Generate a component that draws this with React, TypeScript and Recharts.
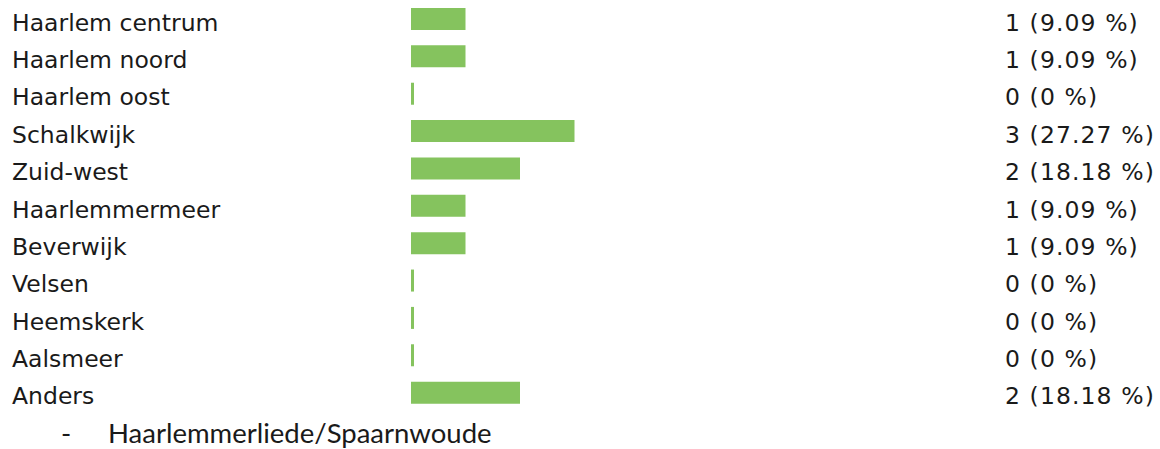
import React from 'react';
import { BarChart, Bar, XAxis, YAxis } from 'recharts';

const regions = [
  'Haarlem centrum',
  'Haarlem noord',
  'Haarlem oost',
  'Schalkwijk',
  'Zuid-west',
  'Haarlemmermeer',
  'Beverwijk',
  'Velsen',
  'Heemskerk',
  'Aalsmeer',
  'Anders',
];
const counts = [1, 1, 0, 3, 2, 1, 1, 0, 0, 0, 2];
const percents = ['9.09', '9.09', '0', '27.27', '18.18', '9.09', '9.09', '0', '0', '0', '18.18'];
const otherAnswers = ['Haarlemmerliede/Spaarnwoude'];

const data = regions.map((name, i) => ({
  name,
  count: counts[i],
  label: `${counts[i]} (${percents[i]} %)`,
}));

const FONT = '"DejaVu Sans", Verdana, sans-serif';

const LeftTick = (props: any) => {
  const { y, payload } = props;
  return (
    <text x={12} y={y} dy={4} dominantBaseline="central" textAnchor="start" fontFamily={FONT} fontSize={23.5} fill="#1a1a1a">
      {payload.value}
    </text>
  );
};

const RightTick = (props: any) => {
  const { y, payload } = props;
  return (
    <text x={1005} y={y} dy={4} dominantBaseline="central" textAnchor="start" fontFamily={FONT} fontSize={23.5} letterSpacing={1.1} fill="#1a1a1a">
      {payload.value}
    </text>
  );
};

export default function App() {
  return (
    <div style={{ position: 'absolute', left: 0, top: 0, width: 1160, height: 449, background: '#fff' }}>
      <BarChart
        width={1160}
        height={449}
        data={data}
        layout="vertical"
        margin={{ top: 0, right: 0, bottom: 38, left: 0 }}
        barCategoryGap={0}
      >
        <XAxis type="number" domain={[0, 10]} hide />
        <YAxis yAxisId="left" type="category" dataKey="name" width={411} axisLine={false} tickLine={false} tick={<LeftTick />} interval={0} />
        <YAxis yAxisId="right" orientation="right" type="category" dataKey="label" width={204} axisLine={false} tickLine={false} tick={<RightTick />} interval={0} />
        <Bar yAxisId="left" dataKey="count" fill="#85c35e" barSize={22} minPointSize={3} isAnimationActive={false} />
      </BarChart>
      {otherAnswers.map((t) => (
        <div
          key={t}
          style={{
            position: 'absolute',
            left: 0,
            top: 416,
            height: 34,
            fontFamily: 'Lato, sans-serif',
            fontSize: 27.5,
            color: '#1a1a1a',
            lineHeight: '34px',
            whiteSpace: 'nowrap',
          }}
        >
          <span style={{ position: 'absolute', left: 61 }}>-</span>
          <span style={{ position: 'absolute', left: 108 }}>{t}</span>
        </div>
      ))}
    </div>
  );
}
